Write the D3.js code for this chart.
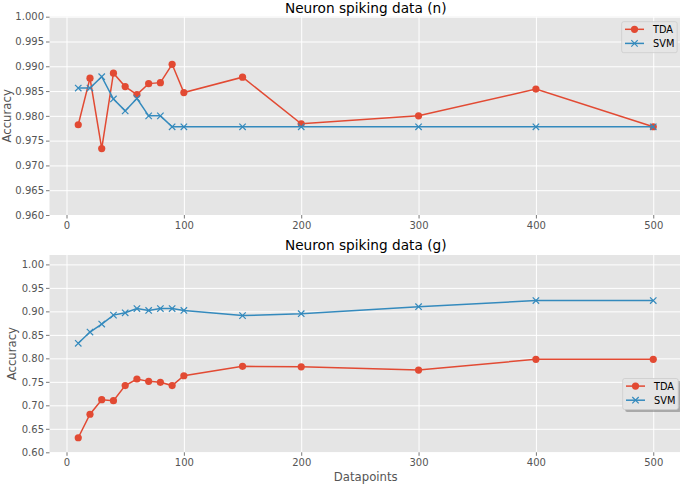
<!DOCTYPE html>
<html>
<head>
<meta charset="utf-8">
<script src="https://cdn.jsdelivr.net/npm/d3@7"></script>
<style>
  body { margin: 0; background: #fff; }
  svg { font-family: "DejaVu Sans", sans-serif; }
</style>
</head>
<body>
<div class="chart"></div>
<script>
var W = 680,
  H = 484;

// data
var datapoints = [10, 20, 30, 40, 50, 60, 70, 80, 90, 100, 150, 200, 300, 400, 500];
var tdaN = [0.9782, 0.9876, 0.9734, 0.9886, 0.9859, 0.9843, 0.9865, 0.9867, 0.9904, 0.9847, 0.9878, 0.9784, 0.9800, 0.9854, 0.9778];
var svmN = [0.9856, 0.9856, 0.9879, 0.9834, 0.9810, 0.9835, 0.9800, 0.9800, 0.9778, 0.9778, 0.9778, 0.9778, 0.9778, 0.9778, 0.9778];
var tdaG = [0.631, 0.681, 0.712, 0.710, 0.742, 0.756, 0.751, 0.749, 0.742, 0.763, 0.783, 0.782, 0.775, 0.798, 0.798];
var svmG = [0.832, 0.856, 0.873, 0.892, 0.897, 0.906, 0.902, 0.906, 0.906, 0.902, 0.891, 0.895, 0.910, 0.923, 0.923];
var xTicks = [0, 100, 200, 300, 400, 500];
var yTicksN = [0.960, 0.965, 0.970, 0.975, 0.980, 0.985, 0.990, 0.995, 1.000];
var yTicksG = [0.60, 0.65, 0.70, 0.75, 0.80, 0.85, 0.90, 0.95, 1.00];

var red = '#E24A33',
  blue = '#348ABD';

var svg = d3.select('.chart')
  .append('svg')
  .attr('width', W)
  .attr('height', H);

// shared x scale (matplotlib adds 5% margins)
var x = d3.scaleLinear()
  .domain([-14.5, 524.5])
  .range([49.5, 682]);

svg.append('clipPath').attr('id', 'fig')
  .append('rect').attr('x', 0).attr('y', 0).attr('width', W).attr('height', H);

var panels = [
  { title: 'Neuron spiking data (n)', top: 16.7, bottom: 215, ydom: [0.96, 1.0], ticks: yTicksN, fmt: '.3f',
    tda: tdaN, svm: svmN, labelX: 10.5, legend: [621.7, 21.7], shadow: false, xlabel: false },
  { title: 'Neuron spiking data (g)', top: 255, bottom: 452.3, ydom: [0.6, 1.02], ticks: yTicksG, fmt: '.2f',
    tda: tdaG, svm: svmG, labelX: 16, legend: [622.7, 378.5], shadow: true, xlabel: true }
];

panels.forEach(drawPanel);

function drawPanel(p) {
  var y = d3.scaleLinear().domain(p.ydom).range([p.bottom, p.top]);
  var left = x.range()[0],
    right = x.range()[1];

  var g = svg.append('g').attr('clip-path', 'url(#fig)');

  // background
  g.append('rect')
    .attr('x', left)
    .attr('y', p.top)
    .attr('width', right - left)
    .attr('height', p.bottom - p.top)
    .attr('fill', '#E5E5E5');

  // grid
  g.append('g')
    .attr('transform', 'translate(0,' + p.bottom + ')')
    .call(d3.axisBottom(x).tickValues(xTicks).tickSize(-(p.bottom - p.top)).tickFormat(''))
    .call(function (s) {
      s.select('.domain').remove();
      s.selectAll('line').attr('stroke', '#fff').attr('stroke-width', 1);
    });
  g.append('g')
    .attr('transform', 'translate(' + left + ',0)')
    .call(d3.axisLeft(y).tickValues(p.ticks).tickSize(-(right - left)).tickFormat(''))
    .call(function (s) {
      s.select('.domain').remove();
      s.selectAll('line').attr('stroke', '#fff').attr('stroke-width', 1);
    });

  // axes
  g.append('g')
    .attr('transform', 'translate(0,' + p.bottom + ')')
    .call(d3.axisBottom(x).tickValues(xTicks).tickSize(3.5).tickPadding(3).tickFormat(d3.format('d')))
    .call(styleAxis);
  g.append('g')
    .attr('transform', 'translate(' + left + ',0)')
    .call(d3.axisLeft(y).tickValues(p.ticks).tickSize(3.5).tickPadding(2).tickFormat(d3.format(p.fmt)))
    .call(styleAxis);

  // lines
  var line = d3.line()
    .x(function (d, i) { return x(datapoints[i]); })
    .y(function (d) { return y(d); });

  g.append('path')
    .datum(p.tda)
    .attr('d', line)
    .attr('fill', 'none')
    .attr('stroke', red)
    .attr('stroke-width', 1.5);
  g.selectAll('circle.tda')
    .data(p.tda)
    .enter()
    .append('circle')
    .attr('class', 'tda')
    .attr('cx', function (d, i) { return x(datapoints[i]); })
    .attr('cy', function (d) { return y(d); })
    .attr('r', 3.6)
    .attr('fill', red);

  g.append('path')
    .datum(p.svm)
    .attr('d', line)
    .attr('fill', 'none')
    .attr('stroke', blue)
    .attr('stroke-width', 1.5);
  g.selectAll('path.svmx')
    .data(p.svm)
    .enter()
    .append('path')
    .attr('class', 'svmx')
    .attr('d', function (d, i) { return crossPath(x(datapoints[i]), y(d)); })
    .attr('stroke', blue)
    .attr('stroke-width', 1.2)
    .attr('fill', 'none');

  // title + labels (keep the top title inside the page)
  svg.append('text')
    .attr('x', (left + right) / 2)
    .attr('y', Math.max(p.top - 5.4, 12.8))
    .attr('text-anchor', 'middle')
    .attr('font-size', '13.7px')
    .attr('fill', '#000')
    .text(p.title);

  svg.append('text')
    .attr('transform', 'translate(' + p.labelX + ',' + ((p.top + p.bottom) / 2) + ') rotate(-90)')
    .attr('text-anchor', 'middle')
    .attr('font-size', '11.7px')
    .attr('fill', '#555')
    .text('Accuracy');

  if (p.xlabel) {
    svg.append('text')
      .attr('x', (left + right) / 2)
      .attr('y', 481)
      .attr('text-anchor', 'middle')
      .attr('font-size', '11.7px')
      .attr('fill', '#555')
      .text('Datapoints');
  }

  drawLegend(p.legend[0], p.legend[1], p.shadow);
}

function styleAxis(s) {
  s.select('.domain').remove();
  s.selectAll('line').attr('stroke', '#555').attr('stroke-width', 0.8);
  s.selectAll('text').attr('fill', '#555').attr('font-size', '10px')
    .attr('font-family', '"DejaVu Sans", sans-serif');
}

function crossPath(cx, cy) {
  var r = 3.2;
  return 'M' + (cx - r) + ',' + (cy - r) + 'L' + (cx + r) + ',' + (cy + r) +
    'M' + (cx - r) + ',' + (cy + r) + 'L' + (cx + r) + ',' + (cy - r);
}

function drawLegend(lx, ly, shadow) {
  var w = 55.5,
    h = 31;
  var g = svg.append('g').attr('transform', 'translate(' + lx + ',' + ly + ')');
  if (shadow) {
    g.append('rect')
      .attr('x', 2.5).attr('y', 2.5)
      .attr('width', w).attr('height', h)
      .attr('rx', 2)
      .attr('fill', '#808080')
      .attr('opacity', 0.6);
  }
  g.append('rect')
    .attr('width', w).attr('height', h)
    .attr('rx', 2)
    .attr('fill', '#E5E5E5')
    .attr('fill-opacity', shadow ? 1 : 0.8)
    .attr('stroke', '#cccccc')
    .attr('stroke-width', 0.8);

  var items = [{ name: 'TDA', color: red, cy: 7.6 }, { name: 'SVM', color: blue, cy: 21.7 }];
  items.forEach(function (it) {
    g.append('line')
      .attr('x1', 3.3).attr('x2', 22.3)
      .attr('y1', it.cy).attr('y2', it.cy)
      .attr('stroke', it.color)
      .attr('stroke-width', 1.5);
    if (it.name === 'TDA') {
      g.append('circle').attr('cx', 12.8).attr('cy', it.cy).attr('r', 3.6).attr('fill', it.color);
    } else {
      g.append('path').attr('d', crossPath(12.8, it.cy))
        .attr('stroke', it.color).attr('stroke-width', 1.2).attr('fill', 'none');
    }
    g.append('text')
      .attr('x', 31.3)
      .attr('y', it.cy + 3.5)
      .attr('font-size', '9.8px')
      .attr('fill', '#000')
      .text(it.name);
  });
}
</script>
</body>
</html>
